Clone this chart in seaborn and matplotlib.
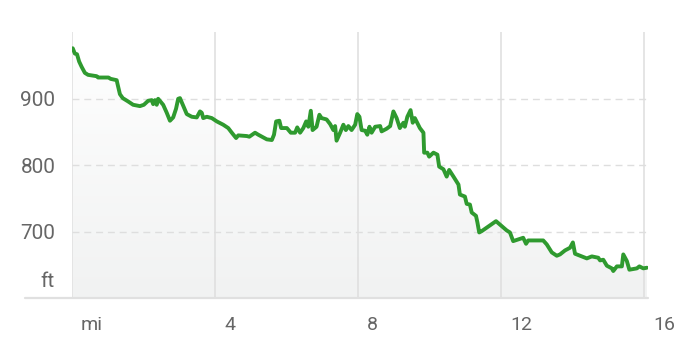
import numpy as np
import pandas as pd
import matplotlib
matplotlib.use("Agg")
import matplotlib.pyplot as plt
import matplotlib.transforms as mtransforms
from matplotlib.lines import Line2D
import seaborn as sns

# ---- data ----
miles = [0.02, 0.08, 0.14, 0.20, 0.27, 0.36, 0.45, 0.69, 0.73, 1.02, 1.08, 1.25, 1.27, 1.34, 1.42,
         1.57, 1.71, 1.90, 2.01, 2.13, 2.23, 2.27, 2.32, 2.37, 2.41, 2.55, 2.65, 2.74, 2.83, 2.91,
         2.97, 3.02, 3.10, 3.21, 3.35, 3.49, 3.58, 3.63, 3.67, 3.77, 3.91, 4.05, 4.23, 4.37, 4.47,
         4.59, 4.65, 4.89, 4.96, 5.12, 5.21, 5.45, 5.59, 5.65, 5.71, 5.80, 5.85, 6.01, 6.12, 6.24,
         6.30, 6.38, 6.47, 6.55, 6.61, 6.68, 6.73, 6.84, 6.92, 6.98, 7.12, 7.22, 7.31, 7.36, 7.40,
         7.50, 7.59, 7.66, 7.73, 7.82, 7.92, 7.98, 8.04, 8.10, 8.20, 8.26, 8.32, 8.38, 8.48, 8.62,
         8.66, 8.80, 8.90, 8.99, 9.08, 9.17, 9.27, 9.31, 9.38, 9.47, 9.53, 9.59, 9.73, 9.83, 9.85,
         9.94, 9.99, 10.11, 10.22, 10.27, 10.39, 10.48, 10.55, 10.67, 10.81, 10.85, 10.99, 11.04, 11.13, 11.18,
         11.30, 11.34, 11.39, 11.46, 11.86, 12.16, 12.25, 12.34, 12.62, 12.70, 12.76, 13.18, 13.28, 13.42, 13.56,
         13.65, 13.79, 13.93, 14.01, 14.07, 14.40, 14.54, 14.72, 14.77, 14.86, 14.96, 15.10, 15.14, 15.24, 15.38,
         15.42, 15.52, 15.59, 15.80, 15.87, 15.98, 16.08]
elev_ft = [976, 968, 967, 956, 948, 939, 936, 934, 932, 932, 930, 928, 923, 907, 901,
           896, 891, 889, 891, 897, 898, 892, 898, 891, 900, 891, 879, 867, 872, 885,
           900, 901, 891, 877, 873, 872, 881, 879, 871, 873, 871, 866, 861, 856, 849,
           841, 845, 844, 843, 849, 846, 839, 838, 846, 866, 867, 856, 856, 849, 849,
           857, 849, 856, 866, 858, 882, 853, 858, 876, 871, 869, 862, 853, 859, 837,
           849, 861, 853, 859, 853, 861, 877, 873, 853, 852, 846, 858, 849, 858, 859,
           851, 855, 859, 881, 871, 856, 864, 858, 873, 883, 864, 871, 856, 849, 819,
           819, 813, 819, 816, 798, 794, 783, 793, 783, 771, 756, 753, 742, 741, 729,
           724, 714, 699, 701, 716, 702, 699, 686, 691, 682, 687, 687, 681, 669, 664,
           666, 672, 676, 684, 667, 660, 663, 661, 657, 658, 649, 645, 641, 648, 648,
           666, 656, 643, 645, 648, 645, 646]

x_ticks = [0, 4, 8, 12, 16]
x_tick_labels = ["mi", "4", "8", "12", "16"]
y_ticks = [700, 800, 900]
y_tick_labels = ["700", "800", "900"]
y_unit_label = "ft"

df = pd.DataFrame({"miles": miles, "elev": elev_ft})

# ---- style ----
sns.set_theme(style="white")
plt.rcParams["font.family"] = ["Roboto", "DejaVu Sans"]

LINE_GREEN = "#2f9a2f"
GRID = "#dedede"
TEXT = "#666666"

fig = plt.figure(figsize=(6.8, 3.62), dpi=100)
ax = fig.add_axes([72 / 680, 1 - 298.3 / 362, (647.6 - 72) / 680, (298.3 - 32.3) / 362])

ax.set_xlim(0, 16.1)
ax.set_ylim(600, 1000)

# gradient fill under the profile (white at top, light grey at bottom)
fill = ax.fill_between(df["miles"], df["elev"], 600, facecolor="none", edgecolor="none", zorder=1)
grad = np.linspace(1, 0, 256).reshape(-1, 1)
cmap = matplotlib.colors.LinearSegmentedColormap.from_list("g", ["#ffffff", "#f1f2f2"])
img = ax.imshow(grad, cmap=cmap, aspect="auto", extent=[0, 16.1, 600, 1000],
                origin="lower", zorder=1, interpolation="bilinear")
path = fill.get_paths()[0]
img.set_clip_path(path, ax.transData)

sns.lineplot(data=df, x="miles", y="elev", ax=ax, color=LINE_GREEN, linewidth=2.8,
             estimator=None, sort=False, zorder=3)

for s in ["top", "right", "left", "bottom"]:
    ax.spines[s].set_visible(False)

ax.set_axisbelow("line")
ax.set_xticks(x_ticks)
ax.set_xticklabels(x_tick_labels)
ax.set_yticks([600] + y_ticks)
ax.set_yticklabels([""] + y_tick_labels)
ax.xaxis.grid(True, color=GRID, linewidth=1.1, linestyle="-")
ax.yaxis.grid(True, color=GRID, linewidth=1.0, linestyle=(0, (5, 3.5)))
ax.yaxis.get_gridlines()[0].set_visible(False)

ax.tick_params(axis="x", length=30, width=1.1, color=GRID, direction="out",
               pad=-17.5, labelsize=14, labelcolor=TEXT)
ax.tick_params(axis="y", length=0, pad=12, labelsize=15, labelcolor=TEXT)
ax.set_xlabel("")
ax.set_ylabel("")

offset = mtransforms.ScaledTranslation(9 / 100, 0, fig.dpi_scale_trans)
for lab in ax.get_xticklabels():
    lab.set_horizontalalignment("left")
    lab.set_transform(lab.get_transform() + offset)

ft_off = mtransforms.offset_copy(ax.get_yaxis_transform(), fig=fig, x=-17, y=11, units="dots")
ax.text(0, 600, y_unit_label, transform=ft_off, ha="right", va="baseline",
        fontsize=15, color=TEXT)

fig.add_artist(Line2D([25 / 680, 648 / 680], [1 - 298.3 / 362] * 2, color="#e0e0e0",
                      linewidth=1.6, transform=fig.transFigure))

fig.savefig("out.png", dpi=100)
